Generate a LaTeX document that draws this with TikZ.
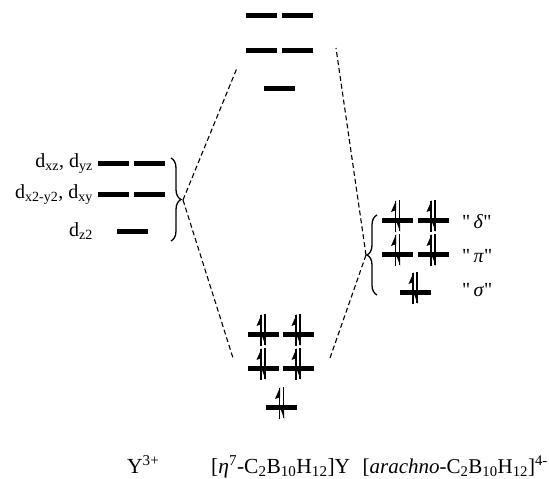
\documentclass[tikz,border=0pt]{standalone}
\usepackage{fontspec}
\setmainfont{Liberation Serif}
\newfontfamily\qfont{Liberation Serif}
\usetikzlibrary{decorations.pathreplacing}
\begin{document}
\begin{tikzpicture}[x=1pt,y=-1pt,
  bar/.style={fill=black, minimum width=31pt, minimum height=5pt, inner sep=0pt, outer sep=0pt},
  dashln/.style={dash pattern=on 5pt off 3pt, line width=1.1pt},
  lbl/.style={font=\fontsize{20}{24}\selectfont, inner sep=0pt},
  blbl/.style={font=\fontsize{21.5}{26}\selectfont, inner sep=0pt},
  bracestyle/.style={decorate, decoration={brace, amplitude=10pt}, line width=1.3pt},
  epair/.pic={
    \draw[line width=1.4pt] (-2,12) -- (-2,-19);
    \fill (-1.3,-20) -- (-6.5,-8) -- (-1.3,-10) -- cycle;
    \draw[line width=1.4pt] (2,-20) -- (2,11);
    \fill (2.7,12) -- (-1,2) -- (2.7,4) -- cycle;
  }]
\useasboundingbox (0,0) rectangle (549,479);

% top (empty) levels
\node[bar] (t1) at (261,15) {};
\node[bar] (t2) at (297.5,15) {};
\node[bar] (t3) at (261,50) {};
\node[bar] (t4) at (297.5,50) {};
\node[bar] (t5) at (279,88) {};

% Y3+ d levels
\node[bar] (d1) at (113,163) {};
\node[bar] (d2) at (149.5,163) {};
\node[bar] (d3) at (113,194) {};
\node[bar] (d4) at (149.5,194) {};
\node[bar] (d5) at (132,231) {};
\node[lbl, anchor=base east] (ld1) at (93,167) {d\textsubscript{xz}, d\textsubscript{yz}};
\node[lbl, anchor=base east] (ld2) at (93,198) {d\textsubscript{x2-y2}, d\textsubscript{xy}};
\node[lbl, anchor=base east] (ld3) at (93,236) {d\textsubscript{z2}};

% middle occupied levels
\node[bar] (m1) at (263,334) {};
\node[bar] (m2) at (298,334) {};
\node[bar] (m3) at (263,368) {};
\node[bar] (m4) at (298,368) {};
\node[bar] (m5) at (281.5,407) {};
\foreach \n in {m1,m2,m3,m4,m5} { \pic at (\n) {epair}; }

% carborane ligand levels
\node[bar] (r1) at (397.5,220) {};
\node[bar] (r2) at (433,220) {};
\node[bar] (r3) at (397.5,254) {};
\node[bar] (r4) at (433,254) {};
\node[bar] (r5) at (415,292) {};
\foreach \n in {r1,r2,r3,r4,r5} { \pic at (\n) {epair}; }
\node[lbl, anchor=base west] (lr1) at (462,228) {{\qfont"}\,\textit{δ}{\qfont"}};
\node[lbl, anchor=base west] (lr2) at (462,262) {{\qfont"}\,\textit{π}{\qfont"}};
\node[lbl, anchor=base west] (lr3) at (462,296) {{\qfont"}\,\textit{σ}{\qfont"}};

% braces
\draw[bracestyle] (171,158) -- (171,241);
\draw[bracestyle] (377,295) -- (377,215);
\coordinate (lt) at (183,200);
\coordinate (rt) at (366,255);
\coordinate (lu) at (237,68);
\coordinate (ll) at (233,358);
\coordinate (ru) at (336,48);
\coordinate (rl) at (330,358);
\draw[dashln] (lt) -- (lu);
\draw[dashln] (lt) -- (ll);
\draw[dashln] (rt) -- (ru);
\draw[dashln] (rt) -- (rl);

% bottom labels
\node[blbl, anchor=base west] (b1) at (127,473) {Y\textsuperscript{3+}};
\node[blbl, anchor=base west] (b2) at (211,473) {[\textit{η}\textsuperscript{7}-C\textsubscript{2}B\textsubscript{10}H\textsubscript{12}]Y};
\node[lbl, font=\fontsize{21}{25}\selectfont, anchor=base east] (b3) at (548,473) {[\textit{arachno}-C\textsubscript{2}B\textsubscript{10}H\textsubscript{12}]\textsuperscript{4-}};
\end{tikzpicture}
\end{document}
